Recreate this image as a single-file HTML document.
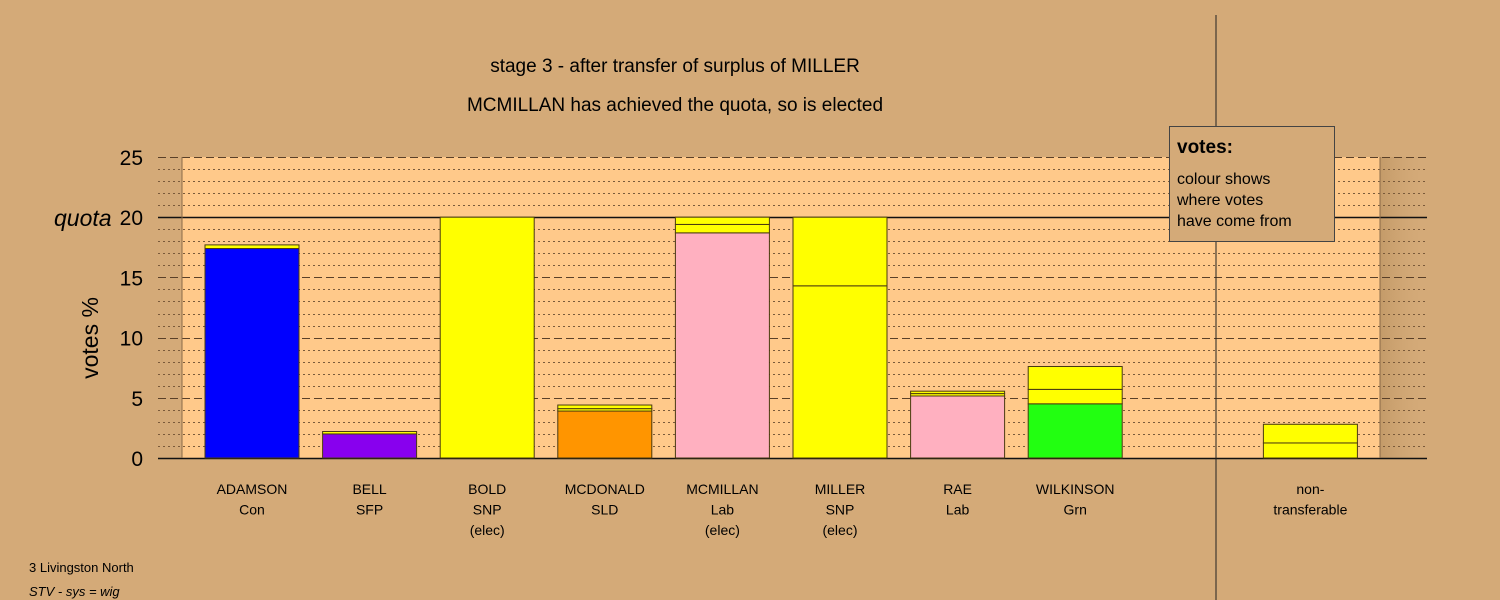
<!DOCTYPE html>
<html><head><meta charset="utf-8"><style>
body{margin:0;background:#d4aa78;}
svg{display:block;font-family:"Liberation Sans",sans-serif;}
</style></head><body>
<svg id="chart" width="1500" height="600" xmlns="http://www.w3.org/2000/svg">
<defs><linearGradient id="shade" x1="0" x2="1" y1="0" y2="0"><stop offset="0" stop-color="#b8905e" stop-opacity="0.6"/><stop offset="1" stop-color="#d4aa78" stop-opacity="0"/></linearGradient></defs>
<rect width="1500" height="600" fill="#d4aa78"/>
<rect x="182" y="157" width="1198" height="301" fill="#ffc98a"/>
<rect x="1380" y="157" width="47" height="301" fill="url(#shade)"/>
<g id="grid"></g>
<g id="bars"></g>
<g id="axis"></g>
<line x1="182" y1="157" x2="182" y2="458" stroke="#8a6a48"/>
<line x1="1380" y1="157" x2="1380" y2="458" stroke="#8a6a48"/>
<line x1="1216" y1="15" x2="1216" y2="600" stroke="#222"/>
<text x="675" y="72" font-size="19" text-anchor="middle">stage 3 - after transfer of surplus of MILLER</text>
<text x="675" y="111" font-size="19" text-anchor="middle">MCMILLAN has achieved the quota, so is elected</text>
<text transform="translate(98,338) rotate(-90)" font-size="23" text-anchor="middle">votes %</text>
<g>
<rect x="1169.5" y="126.5" width="165" height="115" fill="#d4aa78" stroke="#444"/>
<text x="1177" y="153" font-size="19" font-weight="bold">votes:</text>
<text x="1177" y="184" font-size="16">colour shows</text>
<text x="1177" y="205" font-size="16">where votes</text>
<text x="1177" y="226" font-size="16">have come from</text>
</g>
<text x="29" y="572" font-size="13">3 Livingston North</text>
<text x="29" y="596" font-size="13" font-style="italic">STV - sys = wig</text>
</svg>
<script>
const candidates = ["ADAMSON","BELL","BOLD","MCDONALD","MCMILLAN","MILLER","RAE","WILKINSON","non-"];
const parties = ["Con","SFP","SNP","SLD","Lab","SNP","Lab","Grn","transferable"];
const notes = ["","","(elec)","","(elec)","(elec)","","",""];
const slots = [0,1,2,3,4,5,6,7,9];
const segValues = [[17.4,0.3],[2.0,0.2],[20],[3.9,0.2,0.3],[18.7,0.7,0.6],[14.3,5.7],[5.15,0.2,0.2],[4.5,1.2,1.9],[1.25,1.55]];
const segColors = [["#0000ff","#ffff00"],["#8800ee","#ffff00"],["#ffff00"],["#ff9500","#ffff00","#ffff00"],["#ffb0c0","#ffff00","#ffff00"],["#ffff00","#ffff00"],["#ffb0c0","#ffff00","#ffff00"],["#22ff11","#ffff00","#ffff00"],["#ffff00","#ffff00"]];
const yTicks = [0,5,10,15,20,25];
const quota = 20;
const NS="http://www.w3.org/2000/svg";
const y = v => 458 - v*12.04;
const xc = s => 252 + s*117.6;
function mk(tag, attrs, parent){const e=document.createElementNS(NS,tag);for(const k in attrs)e.setAttribute(k,attrs[k]);parent.appendChild(e);return e;}
const grid=document.getElementById('grid'), bars=document.getElementById('bars'), axis=document.getElementById('axis');
for(let v=0;v<=25;v++){
  const yy=Math.round(y(v))+0.5;
  let dash, col="#7a5a3a", w=1;
  if(v===0||v===quota){dash=null;col="#111";w=1.5;}
  else if(v%5===0){dash="8,4";col="#5a4028";}
  else dash="2,3";
  const l=mk('line',{x1:158,x2:1427,y1:yy,y2:yy,stroke:col,'stroke-width':w},grid);
  if(dash) l.setAttribute('stroke-dasharray',dash);
  
  
}
yTicks.forEach(t=>{
  const tx=mk('text',{x:143,y:y(t)+8,'font-size':21,'text-anchor':'end'},axis);
  tx.textContent=t;
  
  
});
const q=mk('text',{x:54,y:y(quota)+9,'font-size':23,'font-style':'italic'},axis);
q.textContent='quota';


candidates.forEach((c,i)=>{
  const cx=xc(slots[i]);
  let base=0;
  segValues[i].forEach((v,j)=>{
    const r=mk('rect',{x:cx-47,y:y(base+v),width:94,height:y(base)-y(base+v),fill:segColors[i][j],stroke:'#4a3a10','stroke-width':1},bars);
    
    
    base+=v;
  });
  [c,parties[i],notes[i]].forEach((t,k)=>{
    if(!t)return;
    const tx=mk('text',{x:cx,y:494+k*20.5,'font-size':14,'text-anchor':'middle'},axis);
    tx.textContent=t;
    
    
  });
});
</script>
</body></html>
